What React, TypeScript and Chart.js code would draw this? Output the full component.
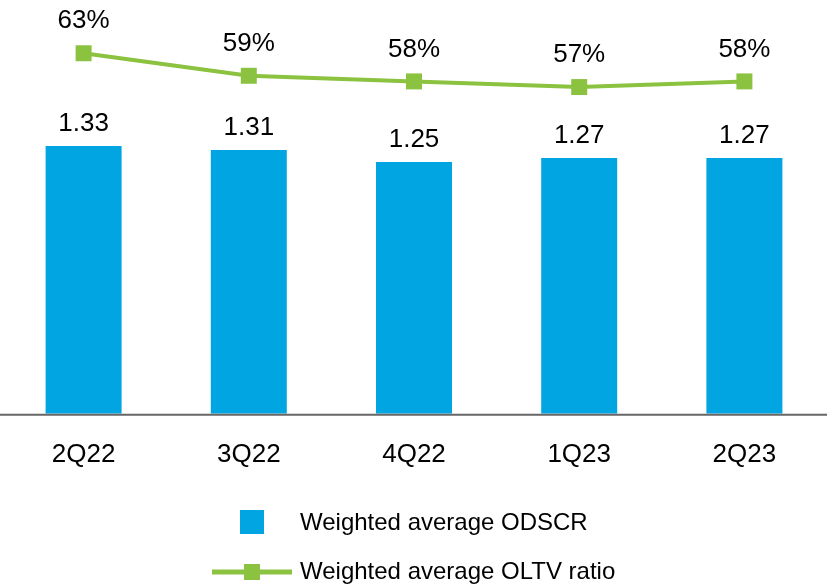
import React, { useEffect, useRef } from "react";
import { Chart, registerables } from "chart.js";

Chart.register(...registerables);

const quarters = ["2Q22", "3Q22", "4Q22", "1Q23", "2Q23"];
const odscr = [1.33, 1.31, 1.25, 1.27, 1.27];
const oltv = [63, 59, 58, 57, 58];
const seriesNames = ["Weighted average ODSCR", "Weighted average OLTV ratio"];

const BLUE = "#00A5E1";
const GREEN = "#8BC240";
const FONT = "'Liberation Sans', Arial, sans-serif";

const labelsPlugin = {
  id: "valueLabels",
  afterDatasetsDraw(chart: any) {
    const { ctx } = chart;
    ctx.save();
    ctx.fillStyle = "#000";
    ctx.font = `26px ${FONT}`;
    ctx.textAlign = "center";
    ctx.textBaseline = "middle";
    const barMeta = chart.getDatasetMeta(0);
    barMeta.data.forEach((el: any, i: number) => {
      ctx.fillText(odscr[i].toFixed(2), el.x, el.y - 22);
    });
    const lineMeta = chart.getDatasetMeta(1);
    lineMeta.data.forEach((el: any, i: number) => {
      ctx.fillText(`${oltv[i]}%`, el.x, el.y - 32);
    });
    ctx.restore();
  },
};

const axisAndLegendPlugin = {
  id: "axisAndLegend",
  afterDraw(chart: any) {
    const { ctx, chartArea, width } = chart;
    ctx.save();
    // baseline under the bars
    ctx.strokeStyle = "#666666";
    ctx.lineWidth = 2;
    ctx.beginPath();
    ctx.moveTo(0, chartArea.bottom + 1);
    ctx.lineTo(width, chartArea.bottom + 1);
    ctx.stroke();

    // legend
    ctx.font = `24px ${FONT}`;
    ctx.textAlign = "left";
    ctx.textBaseline = "middle";

    ctx.fillStyle = BLUE;
    ctx.fillRect(240, 510, 24, 24);
    ctx.fillStyle = "#000";
    ctx.fillText(seriesNames[0], 300, 523);

    ctx.strokeStyle = GREEN;
    ctx.lineWidth = 5;
    ctx.beginPath();
    ctx.moveTo(212, 572);
    ctx.lineTo(292, 572);
    ctx.stroke();
    ctx.fillStyle = GREEN;
    ctx.fillRect(244, 564, 16, 16);
    ctx.fillStyle = "#000";
    ctx.fillText(seriesNames[1], 300, 572);
    ctx.restore();
  },
};

export default function App() {
  const canvasRef = useRef<HTMLCanvasElement>(null);

  useEffect(() => {
    document.body.style.margin = "0";
    const canvas = canvasRef.current;
    if (!canvas) return;
    const chart = new Chart(canvas, {
      type: "bar",
      data: {
        labels: quarters,
        datasets: [
          {
            type: "bar",
            label: seriesNames[0],
            data: odscr,
            backgroundColor: BLUE,
            borderWidth: 0,
            barPercentage: 0.46,
            categoryPercentage: 1,
            yAxisID: "y",
            order: 2,
          },
          {
            type: "line",
            label: seriesNames[1],
            data: oltv,
            borderColor: GREEN,
            backgroundColor: GREEN,
            borderWidth: 4,
            pointStyle: "rect",
            pointRadius: 11.3,
            pointBorderWidth: 0,
            pointBackgroundColor: GREEN,
            tension: 0,
            clip: false,
            yAxisID: "y1",
            order: 1,
          } as any,
        ],
      },
      options: {
        responsive: false,
        animation: false,
        devicePixelRatio: 1,
        layout: { autoPadding: false, padding: { left: 1, right: 0, top: 11, bottom: 99 } },
        plugins: {
          legend: { display: false },
          tooltip: { enabled: false },
        },
        scales: {
          x: {
            grid: { display: false },
            border: { display: false },
            afterFit: (scale: any) => {
              scale.paddingLeft = 0;
              scale.paddingRight = 0;
            },
            ticks: {
              color: "#000",
              padding: 17,
              font: { family: FONT, size: 26 },
            },
          },
          y: {
            display: false,
            min: 0,
            max: 2.0,
          },
          y1: {
            display: false,
            min: -1,
            max: 70.5,
          },
        },
      },
      plugins: [labelsPlugin, axisAndLegendPlugin],
    });
    return () => chart.destroy();
  }, []);

  return <canvas ref={canvasRef} width={827} height={586} style={{ display: "block" }} />;
}
